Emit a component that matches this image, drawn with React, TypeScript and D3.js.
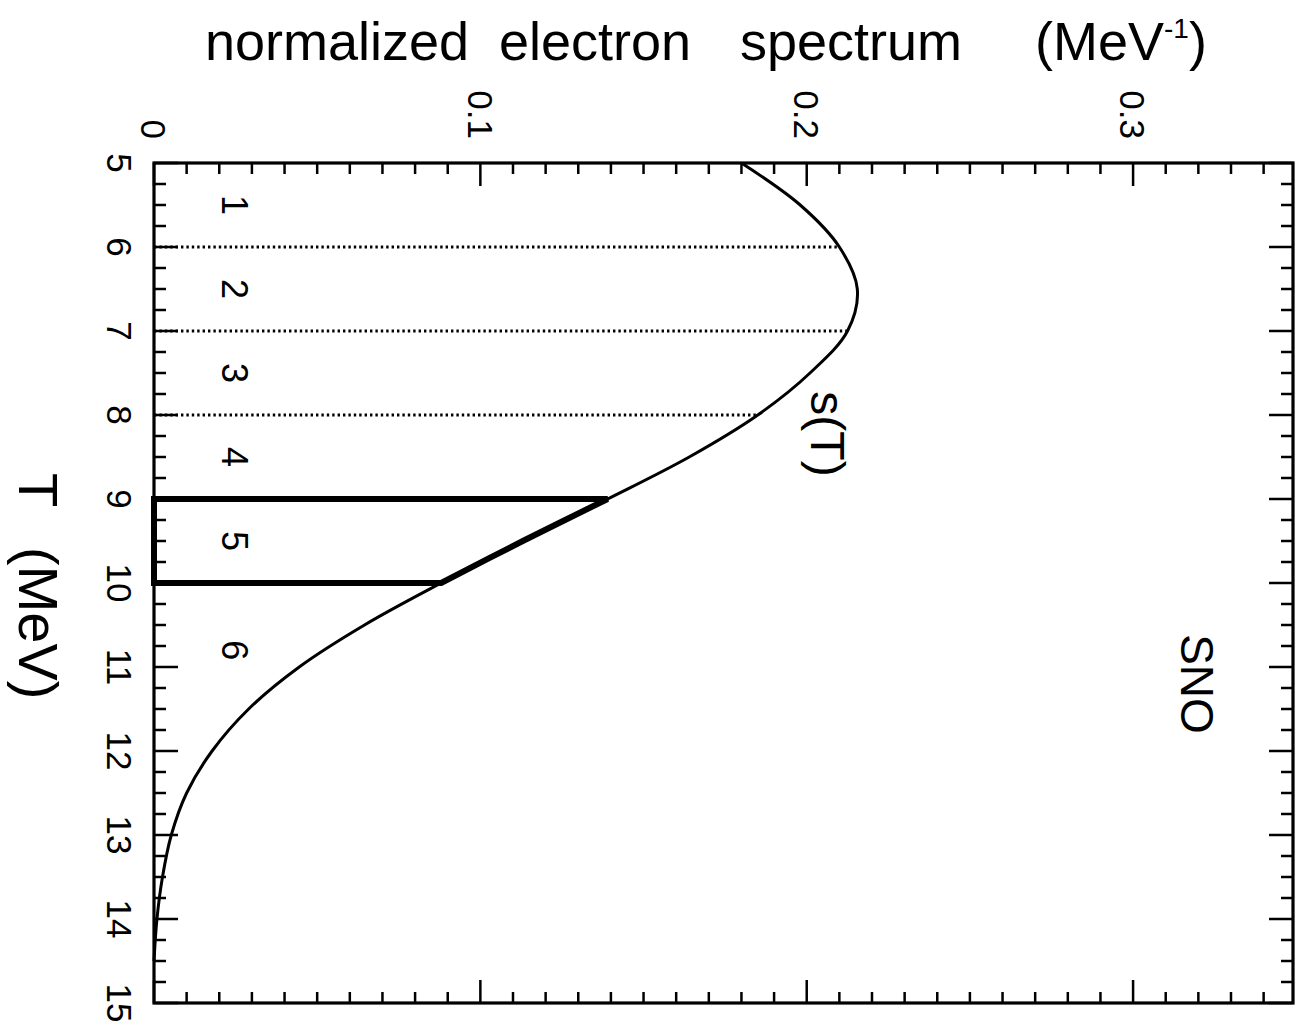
import React, { useEffect, useRef } from 'react';
import * as d3 from 'd3';

// electron kinetic energy T (MeV) and normalized spectrum s(T) (MeV^-1)
const T_VALUES = [5, 5.5, 6, 6.5, 7, 7.5, 8, 8.5, 9, 9.5, 10, 10.5, 11, 11.5, 12, 12.5, 13, 13.5, 14, 14.5];
const S_VALUES = [0.180, 0.198, 0.210, 0.2155, 0.2125, 0.201, 0.185, 0.164, 0.139, 0.113, 0.088, 0.0645, 0.0445, 0.0290, 0.0178, 0.0100, 0.0053, 0.0026, 0.0009, 0.0];

const DOTTED_T = [6, 7, 8];
const BOX_T = [9, 10];
const BIN_LABELS = ['1', '2', '3', '4', '5', '6'];
const BIN_LABEL_T = [5.5, 6.5, 7.5, 8.5, 9.5, 10.8];
const X_MAJOR = [0, 0.1, 0.2, 0.3];
const X_MAJOR_LABELS = ['0', '0.1', '0.2', '0.3'];
const Y_MAJOR = [5, 6, 7, 8, 9, 10, 11, 12, 13, 14, 15];

const FONT = "'Liberation Sans', Arial, sans-serif";

export default function App() {
  const ref = useRef<SVGSVGElement>(null);

  useEffect(() => {
    const svg = d3.select(ref.current);
    svg.selectAll('*').remove();

    const x = d3.scaleLinear().domain([0, 0.349]).range([154, 1293]);
    const y = d3.scaleLinear().domain([5, 15]).range([163, 1003]);
    const [x0, x1] = x.range();
    const [y0, y1] = y.range();

    const data = T_VALUES.map((t, i) => ({ t, s: S_VALUES[i] }));
    const sAt = (t: number) => S_VALUES[T_VALUES.indexOf(t)];

    svg.append('rect').attr('width', 1306).attr('height', 1031).attr('fill', '#fff');

    const g = svg.append('g');

    // ticks, all pointing inward
    const xMinor = x.ticks(35);
    const yMinor = d3.range(5, 15.001, 0.25);
    const isMajorX = (v: number) => Math.abs(v * 10 - Math.round(v * 10)) < 1e-6;
    const isMajorY = (v: number) => Math.abs(v - Math.round(v)) < 1e-6;

    const ticks = g.append('g').attr('stroke', '#000').attr('stroke-width', 2.5);
    xMinor.forEach((v) => {
      const len = isMajorX(v) ? 23 : 11;
      ticks.append('line').attr('x1', x(v)).attr('x2', x(v)).attr('y1', y0).attr('y2', y0 + len);
      ticks.append('line').attr('x1', x(v)).attr('x2', x(v)).attr('y1', y1).attr('y2', y1 - len);
    });
    yMinor.forEach((v) => {
      const len = isMajorY(v) ? 24 : 12;
      ticks.append('line').attr('x1', x0).attr('x2', x0 + len).attr('y1', y(v)).attr('y2', y(v));
      ticks.append('line').attr('x1', x1).attr('x2', x1 - len).attr('y1', y(v)).attr('y2', y(v));
    });

    // frame
    g.append('rect')
      .attr('x', x0).attr('y', y0)
      .attr('width', x1 - x0).attr('height', y1 - y0)
      .attr('fill', 'none').attr('stroke', '#000').attr('stroke-width', 3.2);

    // top tick labels (rotated)
    X_MAJOR.forEach((v, i) => {
      g.append('text')
        .attr('transform', `translate(${x(v)},139) rotate(90)`)
        .attr('dy', '0.36em')
        .attr('text-anchor', 'end')
        .attr('font-family', FONT).attr('font-size', 35)
        .text(X_MAJOR_LABELS[i]);
    });

    // left tick labels (rotated)
    Y_MAJOR.forEach((v) => {
      g.append('text')
        .attr('transform', `translate(120,${y(v)}) rotate(90)`)
        .attr('dy', '0.36em')
        .attr('text-anchor', 'middle')
        .attr('font-family', FONT).attr('font-size', 35)
        .text(v);
    });

    // dotted bin boundaries
    DOTTED_T.forEach((t) => {
      g.append('line')
        .attr('x1', x(0)).attr('x2', x(sAt(t)))
        .attr('y1', y(t)).attr('y2', y(t))
        .attr('stroke', '#000').attr('stroke-width', 2.8)
        .attr('stroke-dasharray', '2.4 3');
    });

    const line = d3.line<{ t: number; s: number }>()
      .x((d) => x(d.s))
      .y((d) => y(d.t))
      .curve(d3.curveCatmullRom.alpha(0.5));

    // spectrum curve
    g.append('path')
      .attr('d', line(data))
      .attr('fill', 'none').attr('stroke', '#000').attr('stroke-width', 3);

    // bold outline of bin 5
    const seg = data.filter((d) => d.t >= BOX_T[0] && d.t <= BOX_T[1]);
    const boxPath = `M${x(0)},${y(BOX_T[0])}L` + (line(seg) as string).slice(1) + `L${x(0)},${y(BOX_T[1])}Z`;
    g.append('path')
      .attr('d', boxPath)
      .attr('fill', 'none').attr('stroke', '#000').attr('stroke-width', 6)
      .attr('stroke-linejoin', 'miter');

    // bin numbers
    BIN_LABELS.forEach((lab, i) => {
      g.append('text')
        .attr('transform', `translate(${x(0.0248)},${y(BIN_LABEL_T[i])}) rotate(90)`)
        .attr('dy', '0.36em')
        .attr('text-anchor', 'middle')
        .attr('font-family', FONT).attr('font-size', 36)
        .text(lab);
    });

    // s(T) label
    g.append('text')
      .attr('transform', `translate(828,434) rotate(90)`)
      .attr('dy', '0.36em')
      .attr('text-anchor', 'middle')
      .attr('font-family', FONT).attr('font-size', 48)
      .text('s(T)');

    // SNO label
    g.append('text')
      .attr('transform', `translate(1198,684) rotate(90)`)
      .attr('dy', '0.36em')
      .attr('text-anchor', 'middle')
      .attr('font-family', FONT).attr('font-size', 46)
      .text('SNO');

    // y axis title
    const yt = g.append('text')
      .attr('transform', `translate(39,473) rotate(90)`)
      .attr('dy', '0.36em')
      .attr('font-family', FONT).attr('font-size', 56);
    yt.append('tspan').text('T');
    yt.append('tspan').attr('x', 74).text('(MeV)');

    // x axis title at the top
    const xt = g.append('text')
      .attr('y', 60)
      .attr('font-family', FONT).attr('font-size', 54);
    xt.append('tspan').attr('x', 205).text('normalized');
    xt.append('tspan').attr('x', 499).text('electron');
    xt.append('tspan').attr('x', 740).text('spectrum');
    xt.append('tspan').attr('x', 1035).text('(MeV');
    xt.append('tspan').attr('dy', -22).attr('font-size', 28).text('-1');
    xt.append('tspan').attr('dy', 22).text(')');
  }, []);

  return (
    <svg ref={ref} width={1306} height={1031}
      style={{ position: 'absolute', left: 0, top: 0 }} />
  );
}
